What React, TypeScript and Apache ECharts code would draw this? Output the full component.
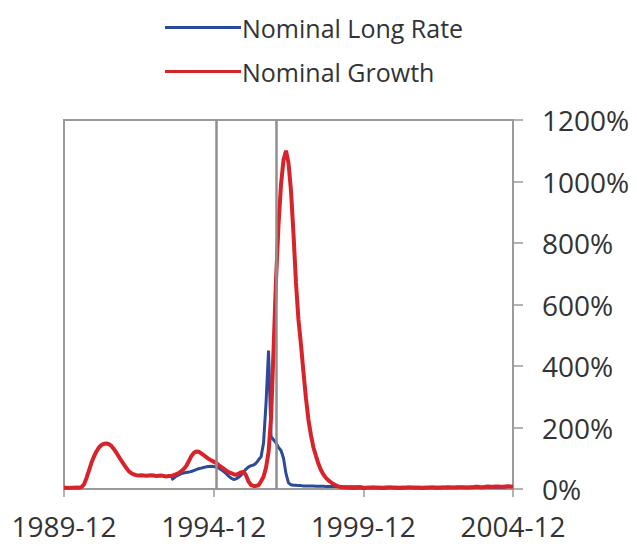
import React, { useEffect, useRef } from "react";
import * as echarts from "echarts";

// Monthly observations, 1989-12 .. 2004-12 (181 months)
const startYear = 1989;
const startMonth = 12;
const monthCount = 181;
const categories: string[] = [];
for (let i = 0; i < monthCount; i++) {
  const total = startYear * 12 + (startMonth - 1) + i;
  const y = Math.floor(total / 12);
  const m = (total % 12) + 1;
  categories.push(`${y}-${m < 10 ? "0" + m : m}`);
}

const xTickLabels = ["1989-12", "1994-12", "1999-12", "2004-12"];
const yTickLabels = [0, 200, 400, 600, 800, 1000, 1200];
const eventMonths = ["1995-01", "1997-01"];

// Nominal Growth (%), m0..m180
const nominalGrowth: number[] = [
  4, 4, 3, 4, 4, 5, 4, 6, 15, 35, 60, 85, 105, 122, 135, 143, 147, 148, 146, 140,
  130, 118, 105, 92, 80, 68, 58, 51, 47, 45, 44, 45, 44, 43, 44, 45, 44, 42, 43, 44,
  42, 41, 42, 42, 45, 48, 52, 58, 65, 75, 90, 106, 117, 122, 121, 116, 110, 104, 98, 93,
  89, 85, 78, 72, 66, 60, 55, 52, 48, 46, 50, 54, 56, 44, 24, 13, 10, 10, 12, 25,
  40, 70, 120, 230, 450, 680, 860, 990, 1070, 1100, 1060, 970, 830, 670, 550, 470, 380, 295, 225, 175,
  135, 108, 82, 62, 47, 36, 28, 22, 16, 12, 8, 6, 5, 5, 4, 4, 3, 4, 5, 4,
  3, 3, 4, 4, 5, 4, 4, 3, 3, 4, 5, 5, 4, 4, 3, 3, 4, 4, 5, 5,
  4, 4, 4, 3, 3, 4, 4, 5, 5, 4, 4, 4, 5, 5, 6, 5, 5, 5, 6, 6,
  6, 5, 5, 6, 6, 7, 7, 6, 6, 7, 8, 7, 7, 8, 8, 7, 7, 8, 9, 8, 7,
];

// Nominal Long Rate (%), starts m43
const nominalLongRate: (number | null)[] = [
  ...new Array(43).fill(null),
  30, 35, 42, 46, 50, 52, 54, 55, 57, 60, 63, 66, 68, 70, 72, 73, 74,
  73, 71, 68, 63, 57, 50, 42, 35, 31, 33, 38, 45, 55, 65, 72, 76, 78, 84, 95, 105,
  150, 280, 450, 170, 160, 150, 135, 125, 100, 50, 20, 14, 12, 12, 11, 11, 10, 10, 10, 10,
  10, 9, 9, 9, 9, 8, 8, 8, 8, 8, 8, 8, 7, 7, 7, 7, 7, 7, 7, 7,
  6, 6, 6, 6, 6, 6, 6, 6, 6, 6, 6, 6, 6, 6, 6, 6, 6, 6, 6, 6,
  6, 6, 6, 6, 6, 6, 6, 6, 6, 6, 6, 6, 6, 6, 6, 6, 6, 6, 6, 6,
  6, 6, 6, 6, 6, 6, 6, 6, 6, 6, 6, 6, 6, 6, 6, 6, 6, 6,
];

const FONT = "'Open Sans', sans-serif";

export default function App() {
  const ref = useRef<HTMLDivElement>(null);
  useEffect(() => {
    if (!ref.current) return;
    const chart = echarts.init(ref.current, undefined, { renderer: "svg" });
    chart.setOption({
      animation: false,
      backgroundColor: "#ffffff",
      legend: {
        orient: "vertical",
        left: 160,
        top: 10,
        itemWidth: 76,
        itemHeight: 3,
        itemGap: 19,
        icon: "rect",
        textStyle: { fontSize: 25, color: "#333", fontFamily: FONT, padding: [0, 0, 0, -4] },
        data: ["Nominal Long Rate", "Nominal Growth"],
      },
      grid: {
        left: 64,
        right: 124,
        top: 120,
        bottom: 57,
        show: true,
        borderColor: "#9a9a9a",
        borderWidth: 2,
      },
      xAxis: {
        type: "category",
        data: categories,
        boundaryGap: false,
        axisLine: { lineStyle: { color: "#9a9a9a", width: 2 } },
        axisTick: {
          show: true,
          inside: false,
          length: 8,
          lineStyle: { color: "#9a9a9a", width: 1.5 },
          interval: (i: number, v: string) => xTickLabels.includes(v),
        },
        axisLabel: {
          interval: (i: number, v: string) => xTickLabels.includes(v),
          fontSize: 28,
          color: "#333",
          fontFamily: FONT,
          margin: 23,
          showMaxLabel: true,
          showMinLabel: true,
        },
        splitLine: { show: false },
      },
      yAxis: {
        type: "value",
        position: "right",
        min: yTickLabels[0],
        max: yTickLabels[yTickLabels.length - 1],
        interval: 200,
        axisLine: { show: true, lineStyle: { color: "#9a9a9a", width: 2 } },
        axisTick: { show: true, length: 10, lineStyle: { color: "#9a9a9a", width: 1.5 } },
        axisLabel: {
          formatter: (v: number) => `${v}%`,
          fontSize: 28,
          color: "#333",
          fontFamily: FONT,
          margin: 29,
        },
        splitLine: { show: false },
      },
      series: [
        {
          name: "Nominal Long Rate",
          type: "line",
          data: nominalLongRate,
          showSymbol: false,
          symbol: "none",
          connectNulls: false,
          lineStyle: { color: "#2b4a9a", width: 3 },
          itemStyle: { color: "#2b4a9a" },
          z: 2,
          markLine: {
            silent: true,
            symbol: "none",
            label: { show: false },
            lineStyle: { color: "#8f8f8f", width: 2.5, type: "solid" },
            data: eventMonths.map((m) => ({ xAxis: m })),
          },
        },
        {
          name: "Nominal Growth",
          type: "line",
          data: nominalGrowth,
          showSymbol: false,
          symbol: "none",
          lineStyle: { color: "#d7242a", width: 4 },
          itemStyle: { color: "#d7242a" },
          z: 3,
        },
      ],
    });
    return () => chart.dispose();
  }, []);
  return <div ref={ref} style={{ width: 637, height: 546, margin: -8 }} />;
}
